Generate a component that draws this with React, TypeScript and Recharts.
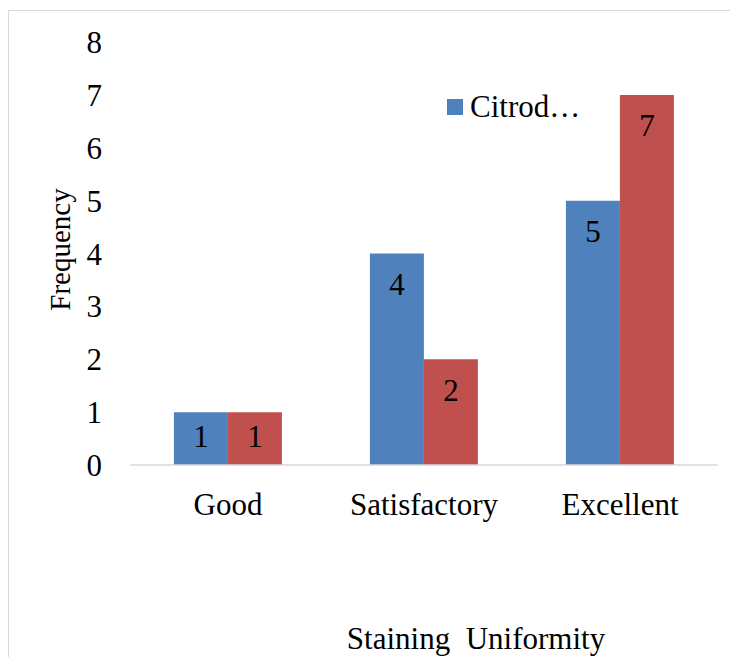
import { Bar, BarChart, LabelList, XAxis, YAxis } from "recharts";

const categories = ["Good", "Satisfactory", "Excellent"];
const seriesNames = ["Citrodora", "Conventional"];
const citrodoraValues = [1, 4, 5];
const conventionalValues = [1, 2, 7];
const yTicks = [0, 1, 2, 3, 4, 5, 6, 7, 8];

const FONT = "'Liberation Serif', 'Times New Roman', serif";
const BLUE = "#4F81BD";
const RED = "#C0504D";

const data = categories.map((name, i) => ({
  name,
  a: citrodoraValues[i],
  b: conventionalValues[i],
}));

// value sits near the top of the bar, centred in short bars
function InsideLabel(props: any) {
  const { x, y, width, height, value } = props;
  const dy = Math.min(31, height / 2 - 2);
  return (
    <text
      x={x + width / 2}
      y={y + dy}
      textAnchor="middle"
      dominantBaseline="central"
      fontFamily={FONT}
      fontSize={31}
      fill="#000"
    >
      {value}
    </text>
  );
}

// rotated y-axis title, centred on the plot height
function FrequencyLabel(props: any) {
  const { viewBox } = props;
  const cx = 51;
  const cy = viewBox.y + viewBox.height / 2 - 4;
  return (
    <text
      x={cx}
      y={cy}
      transform={`rotate(-90, ${cx}, ${cy})`}
      textAnchor="middle"
      dominantBaseline="central"
      fontFamily={FONT}
      fontSize={29}
      fill="#000"
    >
      Frequency
    </text>
  );
}

// x-axis title sits right of the plot centre, near the bottom edge
function UniformityLabel(props: any) {
  const { viewBox } = props;
  const cx = viewBox.x + viewBox.width / 2 + 52;
  const cy = viewBox.y + viewBox.height - 19;
  return (
    <text
      x={cx}
      y={cy}
      textAnchor="middle"
      dominantBaseline="central"
      fontFamily={FONT}
      fontSize={31}
      fill="#000"
    >
      {"Staining\u00A0 Uniformity"}
    </text>
  );
}

// only the first series fits in the legend box, truncated
function ClippedLegend() {
  const label = seriesNames[0].slice(0, 6) + "…";
  return (
    <div
      style={{
        position: "absolute",
        left: 438,
        top: 78,
        display: "flex",
        alignItems: "center",
        fontFamily: FONT,
        fontSize: 31,
        lineHeight: "36px",
        color: "#000",
      }}
    >
      <span style={{ display: "inline-block", width: 16, height: 16, background: BLUE, marginRight: 7 }} />
      <span>{label}</span>
    </div>
  );
}

export default function App() {
  return (
    <div
      style={{
        marginTop: 2,
        width: 729,
        height: 646,
        borderTop: "1px solid #d9d9d9",
        borderLeft: "1px solid #d9d9d9",
        position: "relative",
      }}
    >
      <BarChart
        width={729}
        height={646}
        data={data}
        margin={{ top: 31, right: 20, bottom: 0, left: 0 }}
        barCategoryGap="22.4%"
        barGap={0}
      >
        <XAxis
          dataKey="name"
          axisLine={{ stroke: "#d9d9d9", strokeWidth: 1.5 }}
          tickLine={false}
          tickMargin={22}
          height={192}
          tick={{ fill: "#000", fontSize: 31, fontFamily: FONT }}
          label={<UniformityLabel />}
        />
        <YAxis
          domain={[0, 8]}
          ticks={yTicks}
          interval={0}
          width={121}
          axisLine={false}
          tickLine={false}
          tickSize={0}
          tickMargin={28}
          tick={{ fill: "#000", fontSize: 31, fontFamily: FONT }}
          label={<FrequencyLabel />}
        />
        <Bar dataKey="a" name={seriesNames[0]} fill={BLUE} isAnimationActive={false}>
          <LabelList dataKey="a" content={<InsideLabel />} />
        </Bar>
        <Bar dataKey="b" name={seriesNames[1]} fill={RED} isAnimationActive={false}>
          <LabelList dataKey="b" content={<InsideLabel />} />
        </Bar>
      </BarChart>
      <ClippedLegend />
    </div>
  );
}
